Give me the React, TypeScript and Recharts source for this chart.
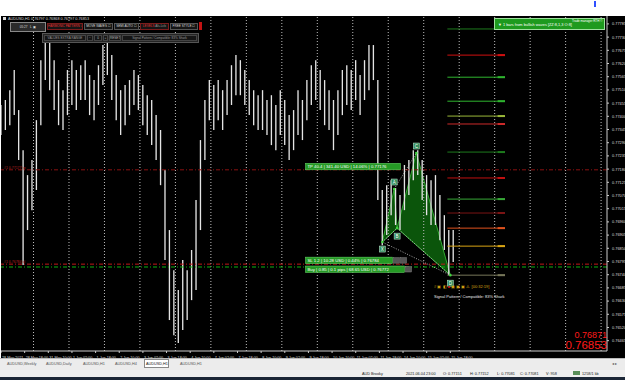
import React from "react"
import { ComposedChart, Bar, Area, XAxis, YAxis, ReferenceLine, ReferenceDot } from "recharts"

// H1 candles, one drawn every BAR_STEP hours
const BAR_STEP = 3

const highs = [
  0.77447, 0.77468, 0.77509, 0.77593, 0.77426, 0.77259, 0.77155, 0.77218, 0.77384, 0.77634,
  0.77738, 0.77718, 0.77634, 0.77551, 0.77509, 0.77593, 0.77634, 0.77593, 0.77613, 0.77634,
  0.77572, 0.77551, 0.77613, 0.77697, 0.77738, 0.77655, 0.77572, 0.77509, 0.7753, 0.77551,
  0.77593, 0.77572, 0.7753, 0.77488, 0.77468, 0.77405, 0.77343, 0.77176, 0.76926, 0.76759,
  0.76676, 0.76801, 0.76759, 0.76843, 0.77051, 0.77301, 0.77468, 0.77551, 0.7753, 0.77551,
  0.77509, 0.77551, 0.77613, 0.77655, 0.77634, 0.77593, 0.77551, 0.77509, 0.77488, 0.77509,
  0.77468, 0.77488, 0.77447, 0.77509, 0.77468, 0.77405, 0.77426, 0.77509, 0.77468, 0.77551,
  0.77613, 0.77634, 0.77593, 0.77551, 0.77509, 0.77468, 0.77509, 0.77593, 0.77613, 0.77593,
  0.77634, 0.77572, 0.77634, 0.77697, 0.77697, 0.77551, 0.77093, 0.77113, 0.77134, 0.77101,
  0.77072, 0.77197, 0.77218, 0.77259, 0.77259, 0.77218, 0.77155, 0.77134, 0.77155, 0.77072,
  0.76988, 0.76926, 0.76926,
]

const lows = [
  0.77322, 0.77343, 0.77363, 0.77405, 0.77218, 0.7678, 0.76926, 0.77009, 0.77093, 0.77363,
  0.77551, 0.77509, 0.77426, 0.77363, 0.77343, 0.77405, 0.77447, 0.77426, 0.77468, 0.77468,
  0.77405, 0.77384, 0.77447, 0.7753, 0.77572, 0.77468, 0.77384, 0.77322, 0.77363, 0.77405,
  0.77447, 0.77426, 0.77363, 0.77322, 0.7728, 0.77218, 0.77113, 0.76801, 0.76551, 0.76488,
  0.76455, 0.76509, 0.76551, 0.76634, 0.76676, 0.76926, 0.77218, 0.77384, 0.77343, 0.77384,
  0.77343, 0.77405, 0.77447, 0.77488, 0.77488, 0.77447, 0.77405, 0.77363, 0.77343, 0.77343,
  0.77322, 0.7728, 0.77259, 0.77322, 0.7728, 0.77218, 0.77259, 0.77322, 0.77301, 0.77384,
  0.77447, 0.77468, 0.77426, 0.77363, 0.77343, 0.77259, 0.77322, 0.77405, 0.77447, 0.77426,
  0.77468, 0.77405, 0.77468, 0.77509, 0.77551, 0.77051, 0.76863, 0.76905, 0.76988, 0.76947,
  0.76926, 0.77009, 0.77072, 0.77134, 0.77155, 0.77051, 0.76988, 0.76947, 0.76947, 0.76884,
  0.76843, 0.76738, 0.76793,
]

const xTickBars = [0, 16, 32, 48, 64, 80, 96, 112, 128, 144, 160, 176, 192, 208, 224, 240, 256, 272, 288, 304]
const xTickLabels = [
  "28 May 2021", "28 May 18:00", "31 May 10:00", "1 Jun 02:00", "1 Jun 18:00", "2 Jun 10:00",
  "3 Jun 02:00", "3 Jun 18:00", "4 Jun 10:00", "7 Jun 02:00", "7 Jun 18:00", "8 Jun 10:00",
  "9 Jun 02:00", "9 Jun 18:00", "10 Jun 10:00", "11 Jun 02:00", "11 Jun 18:00", "14 Jun 10:00",
  "15 Jun 02:00", "15 Jun 18:00",
]
const daySeparators = [22, 46, 70, 94, 118, 142, 166, 190, 214, 238, 262, 286, 310, 334, 358, 382, 406]

const priceTicks = [
  0.77785, 0.7773, 0.77675, 0.7762, 0.77565, 0.7751, 0.77455, 0.774, 0.77345, 0.7729, 0.77235,
  0.7718, 0.77125, 0.7707, 0.77015, 0.7696, 0.76905, 0.7685, 0.76795, 0.7674, 0.76685, 0.7663,
  0.76575, 0.7652, 0.76465,
]

// harmonic pattern points X A B C D
const patternBars = [258, 266, 268, 281, 304]
const patternPrices = [0.76876, 0.77097, 0.76934, 0.77247, 0.76738]
const patternNames = ["X", "A", "B", "C", "D"]

const tpPrice = 0.77177
const slPrice = 0.76784
const buyPrice = 0.76772

const levelPrices = [0.77764, 0.77655, 0.77563, 0.77463, 0.77401, 0.77368, 0.77251, 0.77143, 0.77055, 0.76997, 0.76934, 0.76859, 0.76738]
const levelColors = ["#1d7a1d", "#d01010", "#2fb52f", "#2fb52f", "#9ab83a", "#cc2a2a", "#1d7a1d", "#c01010", "#37a837", "#7a1414", "#e0521e", "#d9a514", "#77775a"]
const LEVEL_FROM = 302
const LEVEL_TO = 341

const X_DOMAIN = [0, 410]
const Y_DOMAIN = [0.76422, 0.77818]

const candles = highs.map((h, i) => ({ bar: i * BAR_STEP, range: [lows[i], h] }))

// point on the straight edge between two pattern points
const edge = (i: number, j: number, bar: number) =>
  patternPrices[i] + ((patternPrices[j] - patternPrices[i]) * (bar - patternBars[i])) / (patternBars[j] - patternBars[i])

const triXAB = [
  { bar: patternBars[0], band: [patternPrices[0], patternPrices[0]] },
  { bar: patternBars[1], band: [edge(0, 2, patternBars[1]), patternPrices[1]] },
  { bar: patternBars[2], band: [patternPrices[2], patternPrices[2]] },
]
const triBCD = [
  { bar: patternBars[2], band: [patternPrices[2], patternPrices[2]] },
  { bar: patternBars[3], band: [edge(2, 4, patternBars[3]), patternPrices[3]] },
  { bar: patternBars[4], band: [patternPrices[4], patternPrices[4]] },
]

const FONT = "'Liberation Sans', Arial, sans-serif"

const XTick = (props: any) => {
  const { x, y, payload } = props
  const idx = xTickBars.indexOf(payload.value)
  return (
    <text x={x + 1} y={y + 3.5} fontSize={3.7} fill="#dddddd" textAnchor="start" fontFamily={FONT}>
      {xTickLabels[idx]}
    </text>
  )
}

const YTick = (props: any) => {
  const { x, y, payload } = props
  return (
    <text x={x + 1} y={y + 1.4} fontSize={3.9} fill="#dddddd" textAnchor="start" fontFamily={FONT}>
      {payload.value.toFixed(5)}
    </text>
  )
}

const tagOffset: Record<string, number> = { X: 7, A: -7, B: 8, C: -7, D: 8 }

const PointTag = (props: any) => {
  const { cx, cy, name } = props
  const oy = cy + tagOffset[name]
  return (
    <g>
      <circle cx={cx} cy={cy} r={1.3} fill="#3fd23f" />
      <rect x={cx - 3} y={oy - 3} width={6} height={6} fill="#2e8b5a" stroke="#c8f0d8" strokeWidth={0.5} />
      <text x={cx} y={oy + 1.6} fontSize={4.5} fill="#ffffff" textAnchor="middle" fontFamily={FONT}>
        {name}
      </text>
    </g>
  )
}

const InfoBox = (props: any) => {
  const { cx, cy, text, w, dy, extra } = props
  return (
    <g>
      <rect x={cx} y={cy + dy} width={w} height={6.5} fill="#259a25" stroke="#6fdc6f" strokeWidth={0.5} />
      <text x={cx + 2} y={cy + dy + 4.7} fontSize={4.3} fill="#ffffff" fontFamily={FONT}>
        {text}
      </text>
      {extra > 0 && <rect x={cx + w + 1} y={cy + dy + 0.5} width={6} height={5.5} fill="#555" stroke="#999" strokeWidth={0.4} />}
      {extra > 1 && <rect x={cx + w + 8} y={cy + dy + 0.5} width={6} height={5.5} fill="#555" stroke="#999" strokeWidth={0.4} />}
    </g>
  )
}

const lineLabel = (text: string, color: string) => (p: any) => (
  <text x={p.viewBox.x + 3} y={p.viewBox.y - 1} fontSize={3.5} fill={color} fontFamily={FONT}>
    {text}
  </text>
)

const Btn = ({ l, t, w, h = 6.5, color = "#dddddd", border = "#555", bg = "#151515", children }: any) => (
  <div
    style={{
      position: "absolute", left: l, top: t, width: w, height: h, boxSizing: "border-box",
      border: `0.6px solid ${border}`, background: bg, color, fontSize: 3.1, lineHeight: `${h - 1}px`,
      whiteSpace: "nowrap", overflow: "hidden", textAlign: "center",
    }}
  >
    {children}
  </div>
)

const small = (l: number, t: number, text: string, color = "#222", size = 3.8): React.ReactNode => (
  <div style={{ position: "absolute", left: l, top: t, fontSize: size, color, whiteSpace: "nowrap", lineHeight: "6px" }}>{text}</div>
)

export default function App() {
  return (
    <div style={{ position: "absolute", left: 0, top: 0, width: 625, height: 380, background: "#ffffff", overflow: "hidden", fontFamily: FONT }}>
      <div style={{ position: "absolute", left: 594, top: 1, width: 2, height: 6, background: "#3050ff" }} />
      <div style={{ position: "absolute", left: 1, top: 16, width: 624, height: 342, background: "#000000" }}>
        <ComposedChart width={624} height={342} data={candles} margin={{ top: 0, right: 0, bottom: 0, left: 0 }}>
          <XAxis
            type="number" dataKey="bar" domain={X_DOMAIN} allowDataOverflow ticks={xTickBars} interval={0}
            height={7} tick={<XTick />} tickSize={2} tickLine={{ stroke: "#cccccc" }} axisLine={{ stroke: "#cccccc" }}
          />
          <YAxis
            orientation="right" type="number" domain={Y_DOMAIN} allowDataOverflow ticks={priceTicks} interval={0}
            width={18} tick={<YTick />} tickSize={2} tickLine={{ stroke: "#cccccc" }} axisLine={{ stroke: "#cccccc" }}
          />
          {daySeparators.map((d) => (
            <ReferenceLine key={d} x={d} stroke="#bdbdbd" strokeDasharray="1 2" />
          ))}
          <ReferenceLine y={tpPrice} stroke="#8a1010" strokeDasharray="4 2 1 2" label={lineLabel("#1 0.77177 tp", "#b52020")} />
          <ReferenceLine y={slPrice} stroke="#c01818" strokeDasharray="4 2 1 2" label={lineLabel("#1 0.76784 sl", "#b52020")} />
          <ReferenceLine y={buyPrice} stroke="#10b010" strokeDasharray="4 2 1 2" />
          <Area data={triXAB} dataKey="band" type="linear" fill="#0c5a0c" fillOpacity={0.95} stroke="#3cc83c" strokeWidth={0.8} isAnimationActive={false} />
          <Area data={triBCD} dataKey="band" type="linear" fill="#0c5a0c" fillOpacity={0.95} stroke="#3cc83c" strokeWidth={0.8} isAnimationActive={false} />
          <Bar dataKey="range" barSize={3} fill="#e4e4e4" isAnimationActive={false} />
          {[[0, 2], [2, 4], [0, 4], [1, 3]].map(([a, b]) => (
            <ReferenceLine
              key={`${a}-${b}`}
              segment={[{ x: patternBars[a], y: patternPrices[a] }, { x: patternBars[b], y: patternPrices[b] }]}
              stroke="#cfcfcf" strokeDasharray="1 1.5" strokeWidth={0.8}
            />
          ))}
          {levelPrices.map((p, i) => (
            <ReferenceLine key={`lv${i}`} segment={[{ x: LEVEL_FROM, y: p }, { x: LEVEL_TO, y: p }]} stroke={levelColors[i]} strokeWidth={1} />
          ))}
          {levelPrices.map((p, i) => (
            <ReferenceLine key={`lm${i}`} segment={[{ x: LEVEL_TO - 5, y: p }, { x: LEVEL_TO, y: p }]} stroke={levelColors[i]} strokeWidth={2} />
          ))}
          {patternNames.map((n, i) => (
            <ReferenceDot key={n} x={patternBars[i]} y={patternPrices[i]} r={0} ifOverflow="visible" shape={(p: any) => <PointTag {...p} name={n} />} />
          ))}
          <ReferenceDot x={206} y={tpPrice} r={0} ifOverflow="visible"
            shape={(p: any) => <InfoBox {...p} w={95} dy={-6.5} extra={0} text="TP 40.4 | 341.40 USD | 14.06% | 0.77176" />} />
          <ReferenceDot x={206} y={slPrice} r={0} ifOverflow="visible"
            shape={(p: any) => <InfoBox {...p} w={87} dy={-7} extra={2} text="SL 1.2 | 10.28 USD | 0.44% | 0.76784" />} />
          <ReferenceDot x={206} y={buyPrice} r={0} ifOverflow="visible"
            shape={(p: any) => <InfoBox {...p} w={99} dy={-1} extra={1} text="Buy | 0.85 | 0.1 pips | 68.65 USD | 0.76772" />} />
          <ReferenceDot x={293} y={0.76643} r={0} ifOverflow="visible"
            shape={(p: any) => (
              <text x={p.cx} y={p.cy} fontSize={4} fill="#e8e8e8" fontFamily={FONT}>Signal Pattern / Compatible: 83% Shark</text>
            )} />
          <ReferenceDot x={293} y={0.76683} r={0} ifOverflow="visible"
            shape={(p: any) => (
              <text x={p.cx} y={p.cy} fontSize={4} fill="#d9a514" fontFamily={FONT}>
                {"# ▣ ◧ "}<tspan fill="#c01818">■</tspan>{" ▣ ▣ ▣ ⚠ [00:32:19]"}
              </text>
            )} />
        </ComposedChart>

        {/* window title and control panel */}
        <div style={{ position: "absolute", left: 2, top: 1, width: 3, height: 3, background: "#dddddd" }} />
        {small(7, 0, "AUDUSD,H1  0.76797 0.76868 0.76797 0.76853", "#dddddd", 3.8)}
        <Btn l={9} t={6} w={36} h={10} bg="#2b2b2b" border="#888">05:27 &nbsp; L &nbsp;▣</Btn>
        <Btn l={46} t={7} w={36} color="#e23030" border="#7a1c1c">HARMONIC PATTERN ☐</Btn>
        <Btn l={83} t={7} w={29}>MOVE WAVES ☐</Btn>
        <Btn l={113} t={7} w={25}>SEMI AUTO ☐</Btn>
        <Btn l={139} t={7} w={29} color="#e23030" border="#7a1c1c">LEVELS <span style={{ color: "#999" }}>Alt+Lvls</span></Btn>
        <Btn l={169} t={7} w={28}>FREE STYLE ☐</Btn>
        <div style={{ position: "absolute", left: 198, top: 6, width: 3, height: 8, background: "#c21212" }} />
        <div style={{ position: "absolute", left: 41, top: 17, width: 157, height: 10, background: "#242424", border: "0.6px solid #555", boxSizing: "border-box" }} />
        <Btn l={43} t={18.5} w={42} color="#9a9a9a" border="#444">VALUES EXTRA RANGE</Btn>
        <Btn l={86} t={18.5} w={6} color="#bbb" border="#444">−</Btn>
        <Btn l={93} t={18.5} w={8} color="#bbb" border="#444">0</Btn>
        <Btn l={102} t={18.5} w={5} color="#bbb" border="#444">+</Btn>
        <Btn l={108} t={18.5} w={12} color="#bbb" border="#444">RESET</Btn>
        <Btn l={121} t={18.5} w={75} color="#9a9a9a" border="#444">Signal Pattern / Compatible: 83% Shark</Btn>

        {/* trade manager box */}
        <div style={{ position: "absolute", left: 493, top: 2, width: 111, height: 12, background: "#1e9a1e", border: "0.6px solid #9fe09f", boxSizing: "border-box" }} />
        {small(571, 1.5, "Trade manager RTH ©", "#ffffff", 3)}
        {small(497, 5.5, "▼   1 bars from bullish waves    [ZZ:8,1,3 O:8]", "#ffffff", 3.9)}

        {/* bid / ask */}
        <div style={{ position: "absolute", right: 18, top: 314, fontSize: 9, color: "#ff1a1a", lineHeight: "10px" }}>0.76871</div>
        <div style={{ position: "absolute", right: 18, top: 323, fontSize: 11.5, color: "#ff1a1a", lineHeight: "12px" }}>0.76853</div>
      </div>

      {/* chart tabs */}
      <div style={{ position: "absolute", left: 0, top: 358, width: 625, height: 12, background: "#ececec", borderTop: "0.6px solid #bbb", boxSizing: "border-box" }} />
      <div style={{ position: "absolute", left: 144, top: 359, width: 25, height: 9, background: "#ffffff", border: "0.6px solid #888", boxSizing: "border-box" }} />
      {small(7, 361, "AUDUSD,Weekly", "#555")}
      {small(46, 361, "AUDUSD,Daily", "#555")}
      {small(83, 361, "AUDUSD,H1", "#555")}
      {small(115, 361, "AUDUSD,H4", "#555")}
      {small(146, 361, "AUDUSD,H1", "#111")}
      {small(180, 361, "AUDUSD,H1", "#555")}
      {small(612, 361, "◂ ▸", "#555")}

      {/* status bar */}
      <div style={{ position: "absolute", left: 0, top: 370, width: 625, height: 7, background: "#f0f0f0" }} />
      {small(362, 370.5, "AUD Brooky")}
      {small(406, 370.5, "2021.06.04 23:00")}
      {small(443, 370.5, "O: 0.77151")}
      {small(470, 370.5, "H: 0.77152")}
      {small(497, 370.5, "L: 0.77081")}
      {small(520, 370.5, "C: 0.77081")}
      {small(546, 370.5, "V: 958")}
      <div style={{ position: "absolute", left: 573, top: 371, width: 7, height: 4, background: "#5a8f5a" }} />
      {small(582, 370.5, "1258/1 kb")}
      <div style={{ position: "absolute", left: 0, top: 377, width: 625, height: 3, background: "#1d2838" }} />
    </div>
  )
}
